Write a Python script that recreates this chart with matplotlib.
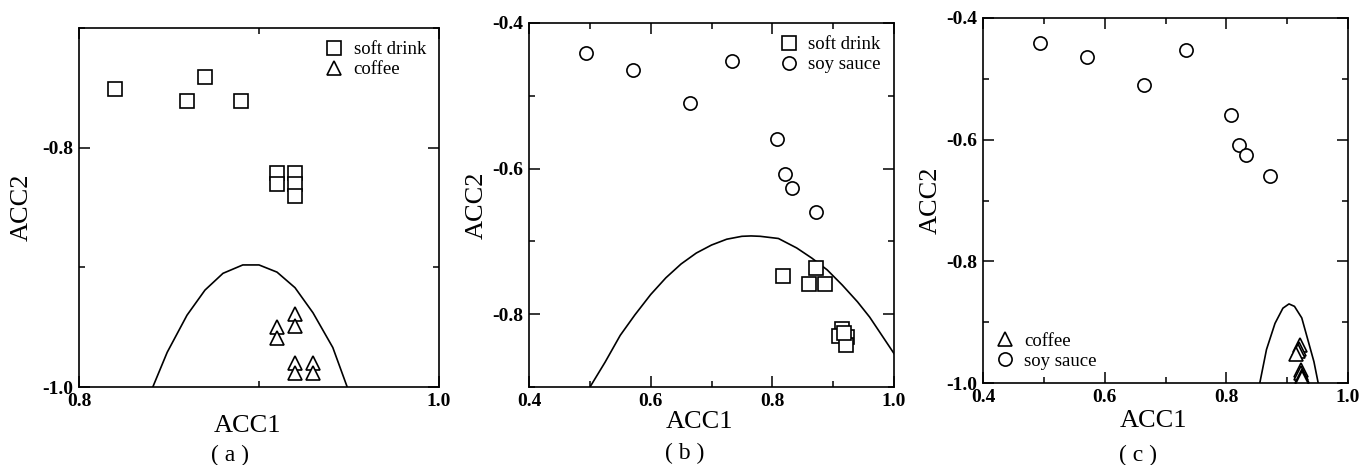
import numpy as np
import matplotlib
matplotlib.use("Agg")
import matplotlib.pyplot as plt
from matplotlib.ticker import MultipleLocator, FormatStrFormatter

plt.rcParams['font.family'] = ['Liberation Serif', 'DejaVu Serif']
plt.rcParams['axes.unicode_minus'] = False

# panel (a): soft drink vs coffee
a_soft_x = [0.820, 0.860, 0.870, 0.890, 0.910, 0.910, 0.920, 0.920, 0.920]
a_soft_y = [-0.751, -0.761, -0.741, -0.761, -0.821, -0.830, -0.821, -0.830, -0.840]
a_coffee_x = [0.910, 0.910, 0.920, 0.920, 0.920, 0.920, 0.930, 0.930]
a_coffee_y = [-0.950, -0.959, -0.939, -0.949, -0.980, -0.988, -0.980, -0.988]
a_curve_x = [0.841, 0.849, 0.860, 0.870, 0.880, 0.891, 0.900, 0.910, 0.920, 0.930, 0.941, 0.949]
a_curve_y = [-1.000, -0.971, -0.940, -0.919, -0.905, -0.898, -0.898, -0.904, -0.917, -0.938, -0.967, -1.000]

# panel (b): soft drink vs soy sauce
b_soft_x = [0.817, 0.872, 0.860, 0.887, 0.915, 0.910, 0.922, 0.921, 0.917]
b_soft_y = [-0.747, -0.737, -0.758, -0.758, -0.820, -0.830, -0.831, -0.842, -0.826]
soy_x = [0.493, 0.571, 0.665, 0.734, 0.807, 0.820, 0.833, 0.871]
soy_y = [-0.441, -0.464, -0.510, -0.452, -0.559, -0.608, -0.626, -0.659]
b_curve_x = [0.501, 0.525, 0.550, 0.574, 0.600, 0.625, 0.650, 0.675, 0.700, 0.725, 0.750,
             0.765, 0.780, 0.810, 0.840, 0.865, 0.890, 0.915, 0.940, 0.960, 0.980, 1.000]
b_curve_y = [-0.899, -0.866, -0.829, -0.801, -0.773, -0.750, -0.731, -0.716, -0.705, -0.697, -0.693,
             -0.6925, -0.693, -0.696, -0.709, -0.723, -0.739, -0.760, -0.783, -0.804, -0.829, -0.854]

# panel (c): coffee vs soy sauce
c_coffee_x = [0.921, 0.920, 0.917, 0.915, 0.923, 0.923, 0.924, 0.925]
c_coffee_y = [-0.937, -0.944, -0.948, -0.953, -0.978, -0.984, -0.988, -0.992]
c_curve_x = [0.855, 0.866, 0.880, 0.893, 0.903, 0.912, 0.924, 0.934, 0.944, 0.951]
c_curve_y = [-1.000, -0.945, -0.902, -0.877, -0.870, -0.874, -0.893, -0.929, -0.965, -1.000]

W, H = 1362, 465
fig = plt.figure(figsize=(W / 100, H / 100), dpi=100)

def px_axes(x0, y0, x1, y1):
    return fig.add_axes([x0 / W, 1 - y1 / H, (x1 - x0) / W, (y1 - y0) / H])

mk = dict(linestyle='none', markersize=9.5, markerfacecolor='white',
          markeredgecolor='black', markeredgewidth=1.2)

def style(ax, xlim, ylim, xlab_y, ylab_x):
    ax.set_xlim(*xlim)
    ax.set_ylim(*ylim)
    ax.xaxis.set_major_locator(MultipleLocator(0.2))
    ax.xaxis.set_minor_locator(MultipleLocator(0.1))
    ax.yaxis.set_major_locator(MultipleLocator(0.2))
    ax.yaxis.set_minor_locator(MultipleLocator(0.1))
    ax.xaxis.set_major_formatter(FormatStrFormatter('%.1f'))
    ax.yaxis.set_major_formatter(FormatStrFormatter('%.1f'))
    ax.tick_params(which='both', direction='in', top=True, right=True, width=1.1)
    ax.tick_params(which='major', length=8, labelsize=14, pad=4)
    ax.tick_params(which='minor', length=4)
    for lab in ax.get_xticklabels() + ax.get_yticklabels():
        lab.set_fontweight('bold')
    for sp in ax.spines.values():
        sp.set_linewidth(1.2)
    ax.set_xlabel('ACC1', fontsize=19)
    ax.set_ylabel('ACC2', fontsize=19)
    ax.xaxis.set_label_coords(0.468, xlab_y)
    ax.yaxis.set_label_coords(ylab_x, 0.5)

leg = dict(frameon=False, fontsize=13.5, handlelength=0.9, handletextpad=0.6,
           labelspacing=0.15, borderaxespad=0.3)

# (a)
ax = px_axes(79, 28, 439, 387)
ax.plot(a_curve_x, a_curve_y, color='black', linewidth=1.2)
ax.plot(a_soft_x, a_soft_y, marker='s', label='soft drink', **mk)
ax.plot(a_coffee_x, a_coffee_y, marker='^', label='coffee', **mk)
style(ax, (0.8, 1.0), (-1.0, -0.7), -0.079, -0.128)
ax.legend(loc='upper right', **leg)
fig.text(230 / W, 1 - 455 / H, '( a )', fontsize=17, ha='center', va='center')

# (b)
ax = px_axes(529, 23, 894, 387)
ax.plot(b_curve_x, b_curve_y, color='black', linewidth=1.2)
ax.plot(b_soft_x, b_soft_y, marker='s', label='soft drink', **mk)
ax.plot(soy_x, soy_y, marker='o', label='soy sauce', **mk)
style(ax, (0.4, 1.0), (-0.9, -0.4), -0.065, -0.112)
ax.legend(loc='upper right', **leg)
fig.text(685 / W, 1 - 453 / H, '( b )', fontsize=17, ha='center', va='center')

# (c)
ax = px_axes(983, 18, 1348, 383)
ax.plot(c_curve_x, c_curve_y, color='black', linewidth=1.2)
ax.plot(c_coffee_x, c_coffee_y, marker='^', label='coffee', **mk)
ax.plot(soy_x, soy_y, marker='o', label='soy sauce', **mk)
style(ax, (0.4, 1.0), (-1.0, -0.4), -0.075, -0.112)
ax.legend(loc='lower left', **leg)
fig.text(1138 / W, 1 - 455 / H, '( c )', fontsize=17, ha='center', va='center')

fig.savefig('out.png', dpi=100)
